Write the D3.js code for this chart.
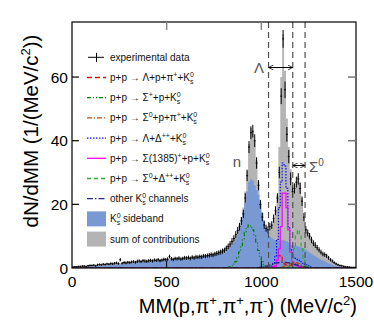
<!DOCTYPE html>
<html><head><meta charset="utf-8">
<script src="https://cdn.jsdelivr.net/npm/d3@7"></script>
<style>
html,body{margin:0;padding:0;background:#fff;}
svg{display:block;font-family:"Liberation Sans",Arial,sans-serif;}
</style></head>
<body><svg id="c" width="374" height="334"></svg>
<script>
// ---- data (10 MeV/c^2 bins starting at 0) ----
const binWidth = 10;
const xTicks = [0, 500, 1000, 1500];
const yTicks = [0, 20, 40, 60];
const dataVals = [
 0.3,0.4,0.4,0.5,0.5,0.6,0.6,0.5,0.7,0.8,
 0.8,0.9,0.7,1.0,1.1,1.0,1.2,1.1,1.3,1.2,
 1.4,1.3,1.5,1.6,1.4,2.6,1.5,1.7,1.6,1.8,
 1.7,1.9,2.0,1.8,2.1,2.2,2.0,2.3,2.2,2.1,
 2.3,2.4,2.2,2.5,2.4,2.6,2.3,2.5,2.7,2.6,
 2.8,3.6,2.9,2.7,3.0,2.9,3.1,2.8,3.0,3.2,
 3.1,3.3,3.0,3.4,3.2,3.5,3.4,3.6,3.5,3.8,
 3.7,3.9,4.0,4.2,4.1,4.4,4.6,4.8,5.0,5.3,
 5.6,6.2,6.8,7.5,8.4,9.3,10.5,11.8,13.0,14.8,
 17,22,29,38,42.5,43,40,33,26,20,
 16,13.5,12.5,12,13,13.5,15.5,18,22,30,
 54,72,56,42,35,28,24,25,27,28,
 25,21,16,12,11,10,8.8,7.8,7.2,6.4,
 5.7,5.0,4.4,4.2,3.8,3.2,2.6,2.2,1.7,1.3,
 1.0,0.8,0.7,0.5,0.4,0.3,0.3,0.2,0.2,0.2];
const dataErr = [
 0.2,0.2,0.2,0.25,0.25,0.25,0.25,0.25,0.3,0.3,
 0.3,0.3,0.3,0.35,0.35,0.35,0.35,0.35,0.35,0.35,
 0.4,0.4,0.4,0.4,0.4,0.5,0.4,0.45,0.45,0.45,
 0.45,0.45,0.45,0.45,0.5,0.5,0.45,0.5,0.5,0.5,
 0.5,0.5,0.5,0.5,0.5,0.55,0.5,0.5,0.55,0.55,
 0.55,0.6,0.55,0.55,0.55,0.55,0.6,0.55,0.55,0.6,
 0.6,0.6,0.6,0.6,0.6,0.65,0.6,0.65,0.65,0.65,
 0.65,0.65,0.7,0.7,0.7,0.7,0.75,0.75,0.75,0.8,
 0.8,0.85,0.9,0.95,1.0,1.0,1.1,1.1,1.2,1.2,
 1.3,1.5,1.7,1.9,2.0,2.0,2.0,1.8,1.6,1.4,
 1.3,1.2,1.1,1.1,1.2,1.2,1.3,1.4,1.5,1.8,
 2.5,2.8,2.6,2.3,2.1,2.0,1.8,1.6,1.7,1.8,
 1.7,1.5,1.3,1.2,1.1,1.0,1.0,0.9,0.9,0.85,
 0.8,0.75,0.7,0.7,0.65,0.6,0.55,0.5,0.45,0.4,
 0.35,0.3,0.3,0.3,0.25,0.25,0.2,0.2,0.2,0.2];
const sumVals = [
 0.3,0.4,0.4,0.5,0.5,0.6,0.6,0.6,0.7,0.7,
 0.8,0.8,0.9,0.9,1.0,1.0,1.1,1.1,1.2,1.2,
 1.3,1.3,1.4,1.4,1.5,1.5,1.6,1.6,1.7,1.7,
 1.8,1.8,1.9,1.9,2.0,2.0,2.1,2.1,2.2,2.2,
 2.3,2.3,2.4,2.4,2.5,2.5,2.6,2.6,2.7,2.7,
 2.8,2.8,2.9,2.9,3.0,3.0,3.1,3.1,3.2,3.2,
 3.3,3.3,3.4,3.4,3.5,3.6,3.6,3.7,3.8,3.9,
 4.0,4.1,4.2,4.4,4.5,4.7,4.9,5.1,5.4,5.7,
 6.0,6.5,7.0,7.7,8.5,9.5,10.7,12.0,13.8,16,
 19,24,31,39,44,43,40,34,27,21,
 17,14,12.5,12,12.5,13.5,15,18,23,38,
 60,73.5,62,47,38,31,26,25,27,29,
 27,22,16,12.5,11,10,9,8,7.2,6.4,
 5.7,5.0,4.4,3.9,3.4,2.9,2.4,2.0,1.6,1.2,
 0.9,0.7,0.5,0.4,0.3,0.3,0.2,0.2,0.1,0.1];
const sidebandVals = [
 0.2,0.2,0.3,0.3,0.3,0.4,0.4,0.4,0.5,0.5,
 0.5,0.6,0.6,0.6,0.7,0.7,0.8,0.8,0.9,0.9,
 1.0,1.0,1.1,1.1,1.2,1.2,1.3,1.3,1.4,1.4,
 1.5,1.5,1.6,1.6,1.7,1.7,1.8,1.8,1.9,1.9,
 2.0,2.0,2.1,2.1,2.2,2.2,2.3,2.3,2.4,2.4,
 2.5,2.5,2.6,2.6,2.7,2.7,2.8,2.8,2.9,2.9,
 3.0,3.0,3.1,3.1,3.2,3.3,3.3,3.4,3.5,3.6,
 3.7,3.8,3.9,4.0,4.2,4.3,4.5,4.7,4.9,5.2,
 5.5,5.9,6.3,6.8,7.4,8.2,9.2,10.5,12.5,15,
 17.5,20.5,24,27,27.8,27.5,26,24.5,23,20,
 17.5,15,12.5,11,10,9.5,9,8.8,8.6,8.6,
 8.7,8.8,8.6,8.3,8.0,7.6,7.2,7.0,6.9,6.8,
 6.6,6.4,6.1,5.7,5.3,4.9,4.5,4.1,3.7,3.3,
 3.0,2.7,2.4,2.1,1.8,1.5,1.3,1.0,0.8,0.6,
 0.5,0.4,0.3,0.2,0.2,0.1,0.1,0.1,0.05,0.05];
// simulated channels: first bin low edge + values
const chLambdaPPiStart = 1060;
const chLambdaPPi = [0.3,1.0,2.8,3.8,4.0,2.0,1.2,0.8,0.6,0.8,1.2,1.3,1.0,0.6,0.3,0.1];
const chSigmaPlusStart = 820;
const chSigmaPlus = [0.2,0.4,0.7,1.2,2.0,3.2,5.0,7.0,9.2,11.2,12.8,13.5,13.2,12.0,10.0,7.8,5.5,3.5,2.0,1.0,0.5,0.2];
const chSigma0PPiStart = 1100;
const chSigma0PPi = [0.2,0.4,0.6,0.8,1.0,1.3,1.6,1.8,1.7,1.4,1.0,0.7,0.4,0.2,0.1];
const chLambdaDeltaStart = 1040;
const chLambdaDelta = [0.3,0.6,1.5,3.5,9,19,27,33,32,25,13,6,3.5,3,3,2.5,2,1.5,1.2,1,0.8,0.5,0.3];
const chSigma1385Start = 1060;
const chSigma1385 = [0.3,0.6,2.5,6,13,23.5,23.5,19,12,5,2,1,0.8,0.5,0.3];
const chSigma0DeltaStart = 1130;
const chSigma0Delta = [0.3,0.6,1.5,3,6,10,12,10.5,6,3,1.2,0.5,0.2];
const chOtherStart = 980;
const chOther = [0.1,0.2,0.3,0.4,0.5,0.7,0.9,1.1,1.3,1.5,1.6,1.7,1.8,1.8,1.8,1.7,1.6,1.5,1.3,1.1,1.0,0.8,0.6,0.5,0.4,0.3,0.2,0.1];
const windowLines = [1038, 1166, 1231];

const channels = [
 {start: chLambdaPPiStart, vals: chLambdaPPi, color: "#ff0000", dash: "5,3", label: "p+p → Λ+p+π^{+}+#K"},
 {start: chSigmaPlusStart, vals: chSigmaPlus, color: "#008000", dash: "4,2,1,2,1,2", label: "p+p → Σ^{+}+p+#K"},
 {start: chSigma0PPiStart, vals: chSigma0PPi, color: "#c04a10", dash: "5,2,1,2", label: "p+p → Σ^{0}+p+π^{+}+#K"},
 {start: chLambdaDeltaStart, vals: chLambdaDelta, color: "#1010ff", dash: "1.5,1.5", label: "p+p → Λ+Δ^{++}+#K"},
 {start: chSigma1385Start, vals: chSigma1385, color: "#ff00ff", dash: null, label: "p+p → Σ(1385)^{+}+p+#K"},
 {start: chSigma0DeltaStart, vals: chSigma0Delta, color: "#33aa33", dash: "4,3", label: "p+p → Σ^{0}+Δ^{++}+#K"},
 {start: chOtherStart, vals: chOther, color: "#2b2b7a", dash: "6,2,1.5,2", label: "other #K channels"}
];

// ---- drawing ----
const svg = d3.select("#c");
const L = 72, R = 356, T = 22, B = 268;
const x = d3.scaleLinear().domain([0, 1500]).range([L, R]);
const y = d3.scaleLinear().domain([0, 77.3]).range([B, T]);

svg.append("defs").append("clipPath").attr("id","plot")
  .append("rect").attr("x",L).attr("y",T).attr("width",R-L).attr("height",B-T);
const g = svg.append("g").attr("clip-path","url(#plot)");

function fullBins(start, vals){
  const n = 1500/binWidth;
  const arr = new Array(n).fill(0);
  const off = Math.round(start/binWidth);
  vals.forEach((v,i)=>{ if(off+i<n) arr[off+i]=v; });
  return arr;
}
function stepPts(arr){
  const pts = arr.map((v,i)=>[i*binWidth, v]);
  pts.push([arr.length*binWidth, arr[arr.length-1]]);
  return pts;
}
const area = d3.area().curve(d3.curveStepAfter).x(d=>x(d[0])).y0(y(0)).y1(d=>y(d[1]));
const line = d3.line().curve(d3.curveStepAfter).x(d=>x(d[0])).y(d=>y(d[1]));

// bottom ticks (under fills)
svg.append("g").selectAll("line").data(xTicks.slice(1,3)).join("line")
  .attr("x1",d=>x(d)).attr("x2",d=>x(d)).attr("y1",B).attr("y2",B-7)
  .attr("stroke","#000").attr("stroke-width",1);

const grayCol = "#b4b4b4", blueCol = "#7899d4";
g.append("path").attr("d", area(stepPts(sumVals))).attr("fill", grayCol);
g.append("path").attr("d", area(stepPts(sidebandVals))).attr("fill", blueCol);

channels.forEach(c=>{
  g.append("path").attr("d", line(stepPts(fullBins(c.start, c.vals))))
   .attr("fill","none").attr("stroke",c.color).attr("stroke-width",1.2)
   .attr("stroke-dasharray", c.dash);
});

// data points
const dp = g.append("g").attr("stroke","#000").attr("stroke-width",1);
dataVals.forEach((v,i)=>{
  const x0 = x(i*binWidth), x1 = x((i+1)*binWidth), xc = x((i+0.5)*binWidth);
  dp.append("line").attr("x1",x0).attr("x2",x1).attr("y1",y(v)).attr("y2",y(v));
  dp.append("line").attr("x1",xc).attr("x2",xc).attr("y1",y(v-dataErr[i])).attr("y2",y(v+dataErr[i]));
});

// window lines
svg.append("g").selectAll("line").data(windowLines).join("line")
  .attr("x1",d=>x(d)).attr("x2",d=>x(d)).attr("y1",T).attr("y2",B)
  .attr("stroke","#505050").attr("stroke-width",1.2).attr("stroke-dasharray","6,4");

// arrows
const defs = svg.select("defs");
function marker(id, orient){
  defs.append("marker").attr("id",id).attr("viewBox","0 0 10 10").attr("refX",10).attr("refY",5)
   .attr("markerWidth",5).attr("markerHeight",5).attr("orient",orient)
   .append("path").attr("d","M0,0 L10,5 L0,10").attr("fill","none").attr("stroke","#000").attr("stroke-width",1.5);
}
marker("ah","auto-start-reverse");
function arrow(a,b,yy){
  svg.append("line").attr("x1",x(a)).attr("x2",x(b)).attr("y1",yy).attr("y2",yy)
   .attr("stroke","#000").attr("stroke-width",1)
   .attr("marker-start","url(#ah)").attr("marker-end","url(#ah)");
}
arrow(windowLines[0], windowLines[1], 67.5);
arrow(windowLines[1], windowLines[2], 165.5);

svg.append("text").attr("x",259).attr("y",73).attr("text-anchor","middle")
  .attr("font-size",15).attr("fill","#555").text("Λ");
svg.append("text").attr("x",237).attr("y",166.5).attr("text-anchor","middle")
  .attr("font-size",15).attr("fill","#555").text("n");
const sg = svg.append("text").attr("x",309).attr("y",172).attr("font-size",15).attr("fill","#555");
sg.append("tspan").text("Σ");
sg.append("tspan").attr("font-size",10).attr("dy",-6).text("0");

// frame
svg.append("rect").attr("x",L).attr("y",T).attr("width",R-L).attr("height",B-T)
  .attr("fill","none").attr("stroke","#000").attr("stroke-width",1.2);

// left ticks + labels
yTicks.forEach(t=>{
  if(t>0){
    svg.append("line").attr("x1",L).attr("x2",L+7).attr("y1",y(t)).attr("y2",y(t)).attr("stroke","#000").attr("stroke-width",1.2);
    svg.append("line").attr("x1",R).attr("x2",R-8).attr("y1",y(t)).attr("y2",y(t)).attr("stroke","#777").attr("stroke-width",1.5);
  }
  svg.append("text").attr("x",L-4).attr("y",y(t)).attr("dy","0.36em").attr("text-anchor","end")
    .attr("font-size",15.5).attr("fill","#000").text(t);
});
// top ticks
xTicks.slice(1,3).forEach(t=>{
  svg.append("line").attr("x1",x(t)).attr("x2",x(t)).attr("y1",T).attr("y2",T+8).attr("stroke","#888").attr("stroke-width",1.5);
});
xTicks.forEach(t=>{
  svg.append("text").attr("x",x(t)).attr("y",287).attr("text-anchor","middle")
    .attr("font-size",15.5).attr("fill","#000").text(t);
});

// axis titles
const xt = svg.append("text").attr("x",357).attr("y",313).attr("text-anchor","end").attr("font-size",20);
xt.append("tspan").text("MM(p,π");
xt.append("tspan").attr("font-size",13).attr("dy",-8).text("+");
xt.append("tspan").attr("dy",8).text(",π");
xt.append("tspan").attr("font-size",13).attr("dy",-8).text("+");
xt.append("tspan").attr("dy",8).text(",π");
xt.append("tspan").attr("font-size",13).attr("dy",-8).text("-");
xt.append("tspan").attr("dy",8).text(") (MeV/c");
xt.append("tspan").attr("font-size",13).attr("dy",-8).text("2");
xt.append("tspan").attr("dy",8).text(")");

const yt = svg.append("text").attr("transform","translate(38,131) rotate(-90)")
  .attr("text-anchor","middle").attr("font-size",20.5);
yt.append("tspan").text("dN/dMM (1/(MeV/c");
yt.append("tspan").attr("font-size",13).attr("dy",-8).text("2");
yt.append("tspan").attr("dy",8).text("))");

// legend
const legY0 = 57.3, legDY = 20.2, lx0 = 87, lx1 = 106, tx = 110;
function richText(sel, s){
  const parts = s.split(/(\^\{[^}]*\}|#K)/).filter(p=>p.length);
  let cur = 0;
  parts.forEach(p=>{
    if(p.startsWith("^{")){
      sel.append("tspan").attr("font-size",7).attr("dy",-4-cur).text(p.slice(2,-1)); cur=-4;
    } else if(p==="#K"){
      sel.append("tspan").attr("dy",-cur).text("K"); cur=0;
      sel.append("tspan").attr("font-size",7).attr("dy",-4).text("0");
      sel.append("tspan").attr("font-size",7).attr("dx",-3.9).attr("dy",7).text("s"); cur=3;
    } else {
      sel.append("tspan").attr("dy",-cur).text(p); cur=0;
    }
  });
}
const leg = svg.append("g");
const entries = [{type:"data", label:"experimental data"}]
  .concat(channels.map(c=>({type:"line", c, label:c.label})))
  .concat([{type:"box", fill:blueCol, label:"#K sideband"},{type:"box", fill:grayCol, label:"sum of contributions"}]);
entries.forEach((e,i)=>{
  const yy = legY0 + i*legDY;
  if(e.type==="data"){
    leg.append("line").attr("x1",lx0+1).attr("x2",lx1-2).attr("y1",yy).attr("y2",yy).attr("stroke","#000");
    leg.append("line").attr("x1",(lx0+lx1)/2).attr("x2",(lx0+lx1)/2).attr("y1",yy-4.5).attr("y2",yy+4.5).attr("stroke","#000");
  } else if(e.type==="line"){
    leg.append("line").attr("x1",lx0).attr("x2",lx1).attr("y1",yy).attr("y2",yy)
      .attr("stroke",e.c.color).attr("stroke-width",1.3).attr("stroke-dasharray",e.c.dash);
  } else {
    leg.append("rect").attr("x",lx0).attr("y",yy-7.5).attr("width",lx1-lx0).attr("height",15).attr("fill",e.fill);
  }
  const t = leg.append("text").attr("x",tx).attr("y",yy+3.5).attr("font-size",10).attr("fill","#111");
  richText(t, e.label);
});
</script></body></html>
